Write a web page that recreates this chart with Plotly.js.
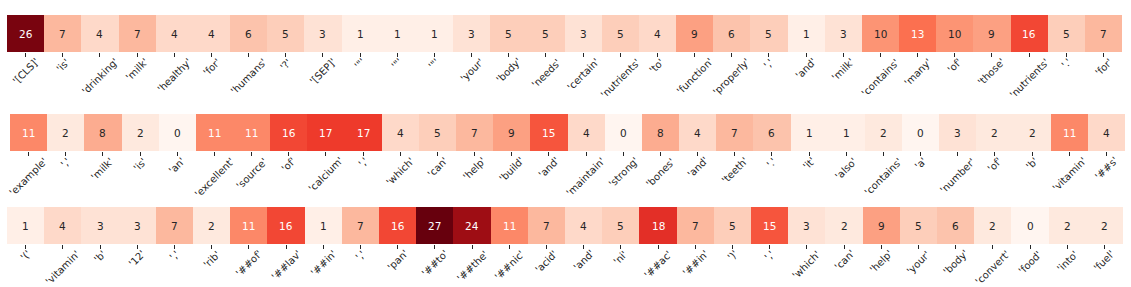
<!DOCTYPE html>
<html>
<head>
<meta charset="utf-8">
<script src="https://cdn.plot.ly/plotly-3.0.1.min.js"></script>
<style>html,body{margin:0;padding:0;background:#fff;}#chart{width:1131px;height:287px;}</style>
</head>
<body>
<div id="chart"></div>
<script>
const tokens1 = ["[CLS]","is","drinking","milk","healthy","for","humans","?","[SEP]","\"","\"","\"","your","body","needs","certain","nutrients","to","function","properly",",","and","milk","contains","many","of","those","nutrients",".","for"];
const values1 = [26,7,4,7,4,4,6,5,3,1,1,1,3,5,5,3,5,4,9,6,5,1,3,10,13,10,9,16,5,7];

const tokens2 = ["example",",","milk","is","an","excellent","source","of","calcium",",","which","can","help","build","and","maintain","strong","bones","and","teeth",".","it","also","contains","a","number","of","b","vitamin","##s"];
const values2 = [11,2,8,2,0,11,11,16,17,17,4,5,7,9,15,4,0,8,4,7,6,1,1,2,0,3,2,2,11,4];

const tokens3 = ["(","vitamin","b","12",",","rib","##of","##lav","##in",",","pan","##to","##the","##nic","acid","and","ni","##ac","##in",")",",","which","can","help","your","body","convert","food","into","fuel"];
const values3 = [1,4,3,3,7,2,11,16,1,7,16,27,24,11,7,4,5,18,7,5,15,3,2,9,5,6,2,0,2,2];

const zMin = 0, zMax = 27;
const redsHex = ["#fff5f0","#fee0d2","#fcbba1","#fc9272","#fb6a4a","#ef3b2c","#cb181d","#a50f15","#67000d"];
const reds = redsHex.map((c,i)=>[i/(redsHex.length-1), c]);

function hexToRgb(h){return [parseInt(h.substr(1,2),16),parseInt(h.substr(3,2),16),parseInt(h.substr(5,2),16)];}
function colorAt(v){
  const t = Math.max(0, Math.min(1, (v - zMin)/(zMax - zMin)));
  const n = redsHex.length-1;
  const p = t*n; const i = Math.min(Math.floor(p), n-1); const f = p - i;
  const a = hexToRgb(redsHex[i]), b = hexToRgb(redsHex[i+1]);
  return a.map((c,k)=>c+(b[k]-c)*f);
}
function textColor(v){
  const rgb = colorAt(v).map(c=>{c/=255; return c<=0.03928? c/12.92 : Math.pow((c+0.055)/1.055,2.4);});
  const lum = 0.2126*rgb[0]+0.7152*rgb[1]+0.0722*rgb[2];
  return lum > 0.408 ? "#262626" : "#ffffff";
}

const H = 287, W = 1131;
const rows = [
  {tok: tokens1, val: values1, x0:7,  x1:1122, top:15,  bot:52},
  {tok: tokens2, val: values2, x0:10, x1:1125, top:114, bot:151},
  {tok: tokens3, val: values3, x0:7,  x1:1123, top:207, bot:244}
];

const data = [];
const annotations = [];
const layout = {
  width:W, height:H,
  margin:{l:0,r:0,t:0,b:0},
  paper_bgcolor:"#fff", plot_bgcolor:"#fff",
  showlegend:false,
  font:{family:"DejaVu Sans", size:10, color:"#262626"}
};

rows.forEach((r, k)=>{
  const sfx = k===0 ? "" : String(k+1);
  const idx = r.tok.map((_,i)=>i);
  data.push({
    type:"heatmap",
    x: idx, y:[0], z:[r.val],
    zmin:zMin, zmax:zMax,
    colorscale: reds, showscale:false,
    xaxis:"x"+sfx, yaxis:"y"+sfx,
    hoverinfo:"skip"
  });
  r.val.forEach((v,i)=>{
    annotations.push({
      x:i, y:0, xref:"x"+sfx, yref:"y"+sfx,
      text:String(v), showarrow:false,
      font:{family:"DejaVu Sans", size:10.5, color:textColor(v)}
    });
  });
  r.tok.forEach((t,i)=>{
    annotations.push({
      x:i, y:1-(r.bot+3)/H, xref:"x"+sfx, yref:"paper",
      text:"'"+t+"'", showarrow:false, textangle:-45,
      xanchor:"center", yanchor:"top", borderpad:0,
      font:{family:"DejaVu Sans", size:10, color:"#262626"}
    });
  });
  layout["xaxis"+sfx] = {
    domain:[r.x0/W, r.x1/W], anchor:"y"+sfx,
    range:[-0.5, r.tok.length-0.5],
    tickmode:"array", tickvals:idx, showticklabels:false,
    ticks:"outside", ticklen:4, tickwidth:1, tickcolor:"#262626",
    showgrid:false, zeroline:false, showline:false, fixedrange:true
  };
  layout["yaxis"+sfx] = {
    domain:[1-r.bot/H, 1-r.top/H], anchor:"x"+sfx,
    range:[-0.5,0.5], showticklabels:false, ticks:"",
    showgrid:false, zeroline:false, showline:false, fixedrange:true
  };
});
layout.annotations = annotations;

Plotly.newPlot("chart", data, layout, {staticPlot:true, displayModeBar:false});
</script>
</body>
</html>
